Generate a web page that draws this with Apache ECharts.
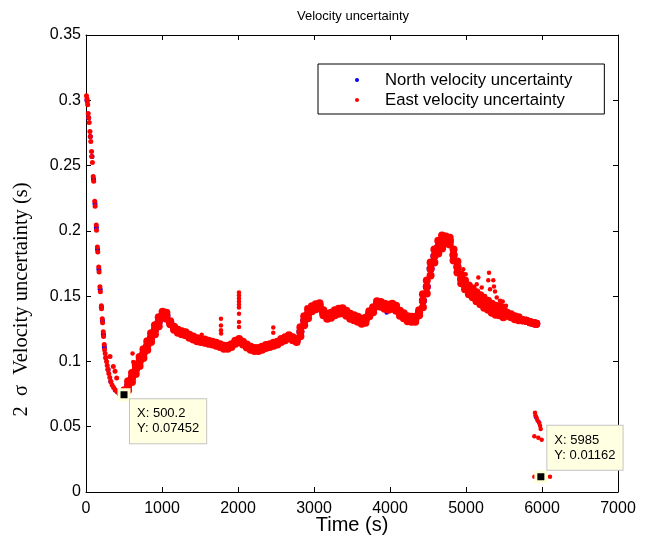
<!DOCTYPE html>
<html><head><meta charset="utf-8">
<script src="https://cdn.jsdelivr.net/npm/echarts@6/dist/echarts.min.js"></script>
<style>html,body{margin:0;padding:0;background:#fff}#c{width:646px;height:547px}</style>
</head><body><div id="c"></div><script>
const titleText = 'Velocity uncertainty';
const xName = 'Time (s)';
const yName = '2  σ  Velocity uncertainty (s)';
const northName = 'North velocity uncertainty';
const eastName = 'East velocity uncertainty';

const bandTime = [504,554,605,655,705,756,806,856,907,957,
1008,1058,1108,1159,1209,1259,1310,1360,1411,1461,
1511,1562,1612,1662,1713,1763,1814,1864,1914,1965,
2015,2065,2116,2166,2217,2267,2317,2368,2418,2468,
2519,2569,2620,2670,2720,2771,2821,2871,2922,2972,
3023,3073,3123,3174,3224,3274,3325,3375,3426,3476,
3526,3577,3627,3677,3728,3778,3829,3879,3929,3980,
4030,4080,4131,4181,4232,4282,4332,4383,4433,4484,
4534,4584,4635,4685,4735,4786,4836,4887,4937,4987,
5038,5088,5138,5189,5239,5290,5340,5390,5441,5491,
5541,5592,5642,5693,5743,5793,5844,5894,5924];

// upper edge, centre and lower edge of the dense band of samples
const eastHigh = [0.0780,0.0849,0.0911,0.0972,0.1033,0.1094,0.1155,0.1216,0.1277,0.1338,
0.1380,0.1373,0.1308,0.1266,0.1243,0.1232,0.1224,0.1205,0.1190,0.1178,
0.1171,0.1167,0.1159,0.1151,0.1144,0.1132,0.1121,0.1121,0.1132,0.1159,
0.1171,0.1151,0.1129,0.1113,0.1102,0.1102,0.1113,0.1125,0.1132,0.1144,
0.1151,0.1171,0.1186,0.1201,0.1186,0.1171,0.1262,0.1346,0.1399,0.1422,
0.1437,0.1445,0.1392,0.1365,0.1373,0.1392,0.1403,0.1407,0.1388,0.1365,
0.1354,0.1342,0.1327,0.1334,0.1384,0.1415,0.1460,0.1456,0.1441,0.1434,
0.1441,0.1426,0.1388,0.1369,0.1346,0.1342,0.1342,0.1392,0.1514,0.1620,
0.1758,0.1857,0.1925,0.1964,0.1956,0.1948,0.1857,0.1765,0.1666,0.1620,
0.1582,0.1559,0.1529,0.1506,0.1479,0.1464,0.1441,0.1426,0.1422,0.1407,
0.1373,0.1361,0.1346,0.1338,0.1315,0.1312,0.1300,0.1293,0.1289];

const bandMid = [0.0763,0.0815,0.0877,0.0938,0.0999,0.1060,0.1121,0.1182,0.1243,0.1304,
0.1357,0.1350,0.1297,0.1255,0.1232,0.1221,0.1213,0.1194,0.1179,0.1167,
0.1160,0.1156,0.1148,0.1140,0.1133,0.1121,0.1110,0.1110,0.1121,0.1148,
0.1160,0.1140,0.1118,0.1102,0.1091,0.1091,0.1102,0.1114,0.1121,0.1133,
0.1140,0.1160,0.1175,0.1190,0.1175,0.1160,0.1228,0.1312,0.1365,0.1403,
0.1418,0.1426,0.1373,0.1346,0.1354,0.1373,0.1384,0.1388,0.1369,0.1346,
0.1335,0.1323,0.1308,0.1315,0.1365,0.1396,0.1441,0.1437,0.1422,0.1415,
0.1422,0.1407,0.1369,0.1350,0.1327,0.1323,0.1323,0.1373,0.1465,0.1571,
0.1709,0.1808,0.1876,0.1914,0.1930,0.1922,0.1815,0.1723,0.1632,0.1586,
0.1548,0.1525,0.1495,0.1472,0.1445,0.1430,0.1407,0.1392,0.1388,0.1373,
0.1362,0.1350,0.1335,0.1327,0.1315,0.1312,0.1300,0.1293,0.1289];

const eastLow = [0.0745,0.0780,0.0843,0.0904,0.0965,0.1026,0.1087,0.1148,0.1209,0.1270,
0.1334,0.1327,0.1285,0.1243,0.1220,0.1209,0.1201,0.1182,0.1167,0.1155,
0.1148,0.1144,0.1136,0.1129,0.1121,0.1110,0.1098,0.1098,0.1110,0.1136,
0.1148,0.1129,0.1106,0.1090,0.1079,0.1079,0.1090,0.1102,0.1110,0.1121,
0.1129,0.1148,0.1163,0.1178,0.1163,0.1148,0.1193,0.1277,0.1331,0.1384,
0.1399,0.1407,0.1354,0.1327,0.1334,0.1354,0.1365,0.1369,0.1350,0.1327,
0.1315,0.1304,0.1289,0.1296,0.1346,0.1376,0.1422,0.1418,0.1403,0.1395,
0.1403,0.1388,0.1350,0.1331,0.1308,0.1304,0.1304,0.1354,0.1415,0.1521,
0.1659,0.1758,0.1826,0.1864,0.1903,0.1895,0.1773,0.1681,0.1598,0.1552,
0.1514,0.1491,0.1460,0.1437,0.1411,0.1395,0.1373,0.1357,0.1354,0.1338,
0.1350,0.1338,0.1323,0.1315,0.1315,0.1312,0.1300,0.1293,0.1289];

const eastDescent = [[6,0.3035],[13,0.3012],[17,0.2989],[22,0.2966],
[29,0.2898],[35,0.2867],[42,0.2829],
[52,0.2760],[57,0.2722],[63,0.2684],
[73,0.2608],[78,0.2570],[84,0.2524],
[95,0.2417],[101,0.2379],
[115,0.2227],[120,0.2188],
[135,0.2044],[138,0.2005],
[150,0.1876],[155,0.1838],
[167,0.1723],[172,0.1685],
[183,0.1571],[189,0.1533],
[202,0.1426],[204,0.1403],
[214,0.1327],[218,0.1296],
[227,0.1228],[231,0.1190],
[240,0.1129],[244,0.1090],
[252,0.1060],[261,0.1029],[270,0.0999],[279,0.0968],[290,0.0938],[300,0.0907],
[313,0.0877],[326,0.0846],[343,0.0820],[363,0.0801],[385,0.0782],[411,0.0766],
[437,0.0755],[464,0.0747],[500.2,0.07452],
[316,0.1038],[359,0.0962],[382,0.0924],[404,0.0873]];

const eastExtra = [[612,0.1060],[622,0.0995],[1522,0.1205],
[1776,0.1327],[1776,0.1276],[1776,0.1238],[1778,0.1213],
[2013,0.1527],[2013,0.1505],[2013,0.1482],[2013,0.1459],[2013,0.1436],[2013,0.1413],
[2013,0.1365],[2013,0.1302],[2013,0.1263],
[2464,0.1260],[2464,0.1220],[2904,0.1413],[2895,0.1360],
[4964,0.1706],[4996,0.1668],[5303,0.1680],[5293,0.1622],[5359,0.1622],[5368,0.1573],
[5382,0.1535],[5483,0.1459],[5526,0.1426],[5141,0.1591],[5207,0.1566],[5250,0.1502],
[5316,0.1553],[5404,0.1489],[5447,0.1464],[5491,0.1426],[5536,0.1388],[5162,0.1642],
[5908,0.0606],[5914,0.0585],[5930,0.0567],[5941,0.0547],[5964,0.0529],[5974,0.0508],
[5983,0.0483],[5899,0.0427],[5951,0.0415],[5996,0.0401],
[5899,0.0116],[5985,0.01162],[6105,0.0116]];

const northDescent = [[13,0.3000],[35,0.2867],[57,0.2722],[78,0.2570],[98,0.2398],
[118,0.2208],[136,0.2025],[152,0.1857],[170,0.1704],[186,0.1552],[203,0.1415],
[216,0.1311],[229,0.1209],[242,0.1110],[261,0.1029],[290,0.0938],[326,0.0846],
[385,0.0782],[437,0.0755]];
const northExtra = [[3956,0.1375],[5920,0.0575],[5960,0.0535]];

const dataTips = [
  {x: 500.2, y: 0.07452, text: 'X: 500.2\nY: 0.07452'},
  {x: 5985, y: 0.01162, text: 'X: 5985\nY: 0.01162'}
];

const xTicks = {min: 0, max: 7000, interval: 1000};
const yTicks = {min: 0, max: 0.35, interval: 0.05};

const SANS = "'Liberation Sans', Arial, sans-serif";
const SERIF = "'Liberation Serif', 'Times New Roman', serif";
const eastBand = [];
bandTime.forEach((t, i) => {
  eastBand.push([t, eastHigh[i]]); eastBand.push([t, bandMid[i]]); eastBand.push([t, eastLow[i]]);
});
const northBand = bandTime.map((t, i) => [t, bandMid[i]]);

const chart = echarts.init(document.getElementById('c'), null, {renderer: 'canvas'});
const axisCommon = {
  axisLine: {show: true, onZero: false, lineStyle: {color: '#000', width: 1}},
  axisTick: {show: true, inside: true, length: 5, lineStyle: {color: '#000'}},
  splitLine: {show: false}
};
const blue = '#0000ff', red = '#ff0000';
const tipPos = [[12.5, 11], [13, -44.5]];
chart.setOption({
  animation: false,
  backgroundColor: '#fff',
  title: {text: titleText, left: 353, top: 10, padding: 0, textAlign: 'center',
    textStyle: {fontFamily: SANS, fontSize: 13, fontWeight: 'normal', color: '#000'}},
  legend: {
    orient: 'vertical', left: 318, top: 64, padding: [7.5, 32, 5.5, 37], itemGap: 3,
    itemWidth: 46, itemHeight: 4, selectedMode: false,
    backgroundColor: '#fff', borderColor: '#000', borderWidth: 1, borderRadius: 0,
    textStyle: {fontFamily: SANS, fontSize: 16.7, color: '#000'},
    data: [{name: northName, icon: 'circle'}, {name: eastName, icon: 'circle'}]
  },
  grid: {left: 86, right: 28, top: 35, bottom: 55, containLabel: false},
  xAxis: [
    Object.assign({type: 'value', position: 'bottom', min: xTicks.min, max: xTicks.max, interval: xTicks.interval,
      name: xName, nameLocation: 'middle', nameGap: 23, nameMoveOverlap: false,
      nameTextStyle: {fontFamily: SANS, fontSize: 20, color: '#000'},
      axisLabel: {fontFamily: SANS, fontSize: 16, color: '#000', margin: 9, formatter: v => String(v)}}, axisCommon),
    Object.assign({type: 'value', position: 'top', min: xTicks.min, max: xTicks.max, interval: xTicks.interval,
      axisLabel: {show: false}}, axisCommon)
  ],
  yAxis: [
    Object.assign({type: 'value', position: 'left', min: yTicks.min, max: yTicks.max, interval: yTicks.interval,
      name: yName, nameLocation: 'middle', nameGap: 54, nameRotate: 90,
      nameTextStyle: {fontFamily: SERIF, fontSize: 20.5, color: '#000', padding: [0, 72, 0, 0]},
      axisLabel: {fontFamily: SANS, fontSize: 16, color: '#000', margin: 5}}, axisCommon),
    Object.assign({type: 'value', position: 'right', min: yTicks.min, max: yTicks.max, interval: yTicks.interval,
      axisLabel: {show: false}}, axisCommon)
  ],
  series: [
    {name: northName, type: 'scatter', silent: true, data: northBand, symbolSize: 8, itemStyle: {color: blue, opacity: 1}},
    {name: northName, type: 'scatter', silent: true, data: northDescent, symbolSize: 5, itemStyle: {color: blue, opacity: 1}},
    {name: northName, type: 'scatter', silent: true, data: northExtra, symbolSize: 4.5, itemStyle: {color: blue, opacity: 1}},
    {name: eastName, type: 'scatter', silent: true, data: eastBand, symbolSize: 8, itemStyle: {color: red, opacity: 1}},
    {name: eastName, type: 'scatter', silent: true, data: eastDescent, symbolSize: 5, itemStyle: {color: red, opacity: 1}},
    {name: eastName, type: 'scatter', silent: true, data: eastExtra, symbolSize: 4.5, itemStyle: {color: red, opacity: 1},
      markPoint: {
        silent: true, symbol: 'rect', symbolSize: 10,
        itemStyle: {color: '#000', borderColor: '#ffffd8', borderWidth: 3},
        data: dataTips.map((d, i) => ({
          coord: [d.x, d.y],
          label: {show: true, formatter: d.text, position: tipPos[i], align: 'left', verticalAlign: 'top',
            fontFamily: SANS, fontSize: 13, lineHeight: 15, color: '#000',
            backgroundColor: '#ffffe1', borderColor: '#c4c4c4', borderWidth: 1, padding: [7, 7, 7, 7]}
        }))
      }}
  ]
});
</script></body></html>
